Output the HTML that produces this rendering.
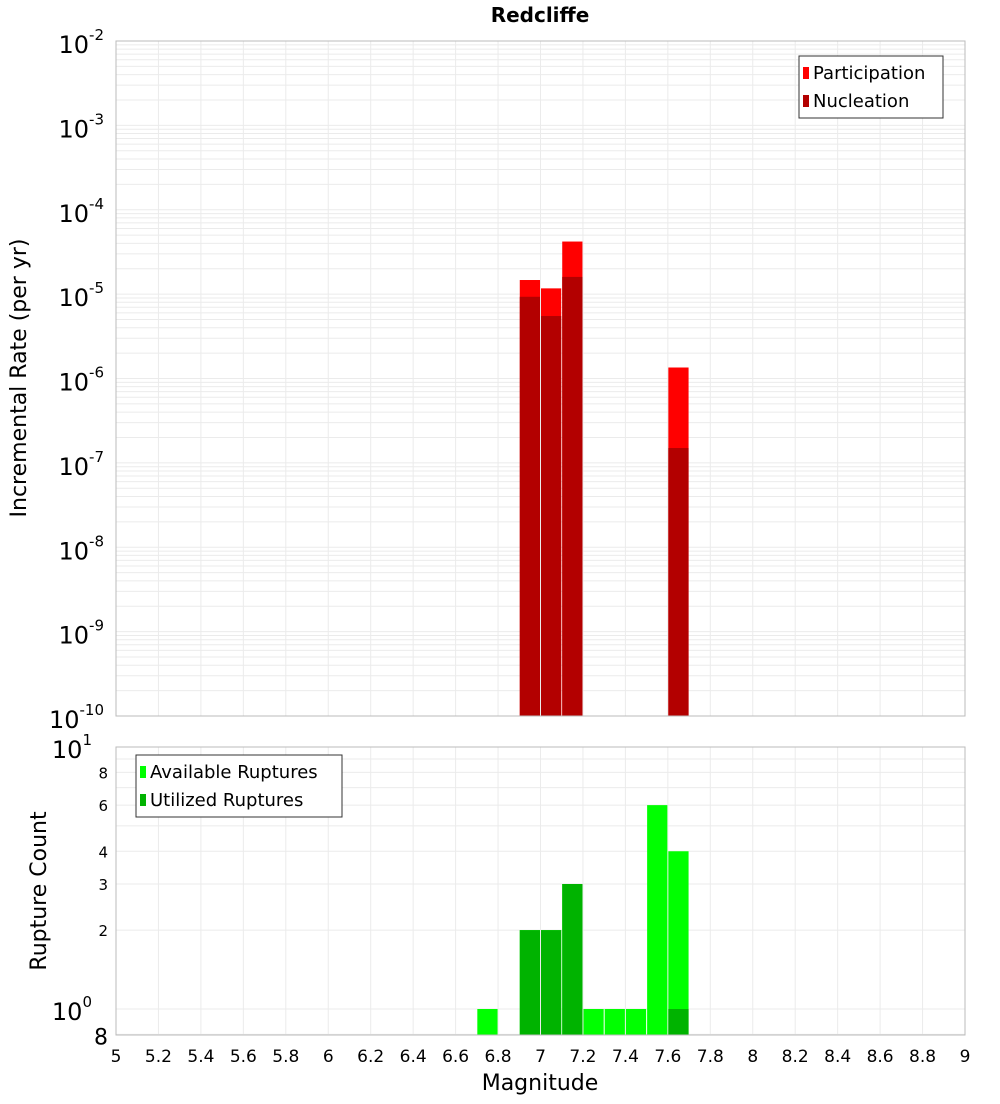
<!DOCTYPE html>
<html><head><meta charset="utf-8"><style>
body{margin:0;background:#fff;font-family:"DejaVu Sans","Liberation Sans",sans-serif;}
svg text{font-family:"DejaVu Sans","Liberation Sans",sans-serif;}
</style></head><body>
<svg id="chart" width="1000" height="1100" xmlns="http://www.w3.org/2000/svg">
<text x="540" y="22" text-anchor="middle" font-size="20" font-weight="bold">Redcliffe</text>
<g id="topplot"></g>
<g id="botplot"></g>
<text transform="translate(26,378) rotate(-90)" text-anchor="middle" font-size="22">Incremental Rate (per yr)</text>
<text transform="translate(46,891) rotate(-90)" text-anchor="middle" font-size="22">Rupture Count</text>
<text x="540" y="1090" text-anchor="middle" font-size="22">Magnitude</text>
</svg>
<script>
const mags=[6.75,6.95,7.05,7.15,7.25,7.35,7.45,7.55,7.65];
const partMags=[6.95,7.05,7.15,7.65];
const participation=[1.47e-5,1.17e-5,4.2e-5,1.35e-6];
const nucleation=[9.3e-6,5.5e-6,1.6e-5,1.5e-7];
const available=[1,2,2,3,1,1,1,6,4];
const utilMags=[6.95,7.05,7.15,7.65];
const utilized=[2,2,3,1];
const xTicks=[5,5.2,5.4,5.6,5.8,6,6.2,6.4,6.6,6.8,7,7.2,7.4,7.6,7.8,8,8.2,8.4,8.6,8.8,9];
const topExps=[-2,-3,-4,-5,-6,-7,-8,-9,-10];
const botTicks=[0.8,2,3,4,6,8];

const NS="http://www.w3.org/2000/svg";
const X0=116,X1=965;
const xs=m=>X0+(m-5)/4*(X1-X0);
const T0=41,T1=716;
const yT=v=>T0+(-2-Math.log10(v))*(T1-T0)/8;
const B0=747,B1=1035;
const yB=v=>747+(1-Math.log10(v))*262;
function mk(p,t,a){const e=document.createElementNS(NS,t);for(const k in a)e.setAttribute(k,a[k]);p.appendChild(e);return e;}
const topG=document.getElementById('topplot'),botG=document.getElementById('botplot');
for(let e=-10;e<-2;e++)for(let k=1;k<10;k++){const v=k*Math.pow(10,e);const l=mk(topG,'line',{x1:X0,x2:X1,y1:yT(v),y2:yT(v),stroke:'#ebebeb','stroke-width':1});

}
for(const t of xTicks){const l=mk(topG,'line',{x1:xs(t),x2:xs(t),y1:T0,y2:T1,stroke:'#ebebeb'});


const l2=mk(botG,'line',{x1:xs(t),x2:xs(t),y1:B0,y2:B1,stroke:'#ebebeb'});


const tx=mk(botG,'text',{x:xs(t),y:1062,'text-anchor':'middle','font-size':17});tx.textContent=String(t);

}
for(const v of [0.8,1,2,3,4,5,6,7,8,9,10]){const l=mk(botG,'line',{x1:X0,x2:X1,y1:yB(v),y2:yB(v),stroke:'#ebebeb'});

}
partMags.forEach((m,i)=>{const r=mk(topG,'rect',{x:xs(m-0.05)+0.5,width:xs(m+0.05)-xs(m-0.05)-1,y:yT(participation[i]),height:T1-yT(participation[i]),fill:'#ff0000'});


const n=mk(topG,'rect',{x:xs(m-0.05)+0.5,width:xs(m+0.05)-xs(m-0.05)-1,y:yT(nucleation[i]),height:T1-yT(nucleation[i]),fill:'#b30000'});

});
mags.forEach((m,i)=>{const r=mk(botG,'rect',{x:xs(m-0.05)+0.5,width:xs(m+0.05)-xs(m-0.05)-1,y:yB(available[i]),height:B1-yB(available[i]),fill:'#00ff00'});

});
utilMags.forEach((m,i)=>{const r=mk(botG,'rect',{x:xs(m-0.05)+0.5,width:xs(m+0.05)-xs(m-0.05)-1,y:yB(utilized[i]),height:B1-yB(utilized[i]),fill:'#00b300'});

});
mk(topG,'rect',{x:X0,y:T0,width:X1-X0,height:T1-T0,fill:'none',stroke:'#bbb'});
mk(botG,'rect',{x:X0,y:B0,width:X1-X0,height:B1-B0,fill:'none',stroke:'#bbb'});
for(const e of topExps){const y=yT(Math.pow(10,e));const t=mk(topG,'text',{x:104,y:y+12,'text-anchor':'end','font-size':24});


t.innerHTML='10<tspan dy="-13" font-size="15">'+e+'</tspan>';}
for(const v of [1,10]){const t=mk(botG,'text',{x:92,y:yB(v)+11,'text-anchor':'end','font-size':24});


t.innerHTML='10<tspan dy="-13" font-size="15">'+(v==1?0:1)+'</tspan>';}
for(const v of botTicks){const big=v==0.8;const t=mk(botG,'text',{x:108,y:yB(v)+(big?10:6),'text-anchor':'end','font-size':big?22:15});t.textContent=String(v==0.8?8:v);

}
function legend(p,x0,y0,w,items){const g=mk(p,'g',{});


mk(g,'rect',{x:x0,y:y0,width:w,height:62,fill:'#fff',stroke:'#333'});
items.forEach((it,i)=>{mk(g,'rect',{x:x0+4,y:y0+11+i*28,width:6,height:12,fill:it[1]});const t=mk(g,'text',{x:x0+14,y:y0+23+i*28,'font-size':18});t.textContent=it[0];

});}
legend(topG,799,56,144,[['Participation','#ff0000'],['Nucleation','#b30000']]);
legend(botG,136,755,206,[['Available Ruptures','#00ff00'],['Utilized Ruptures','#00b300']]);
</script>
</body></html>
